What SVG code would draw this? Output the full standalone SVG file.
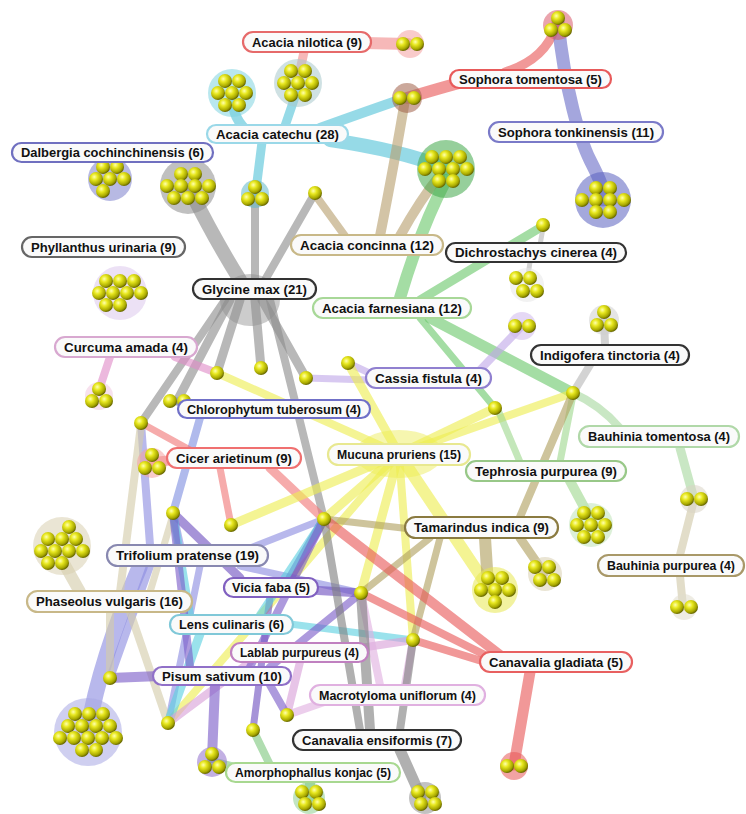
<svg xmlns="http://www.w3.org/2000/svg" xmlns:xlink="http://www.w3.org/1999/xlink" width="746" height="814" viewBox="0 0 746 814">
<style>
.e{fill:none;stroke-linecap:round;stroke-opacity:.62}
.nil{stroke:#f08c8c}.tom{stroke:#e85858}.cat{stroke:#55c4d8}.ton{stroke:#6c70c8}.gly{stroke:#8c8c8c}
.con{stroke:#b8a070}.far{stroke:#6cc86c}.dic{stroke:#b8b8b8}.cur{stroke:#e08cc8}.ind{stroke:#b8b8b8}
.cas{stroke:#c0a8e8}.chl{stroke:#8090e0}.bto{stroke:#a8d8a0}.cic{stroke:#f07878}.muc{stroke:#eeee50}
.tep{stroke:#a0d890}.tam{stroke:#b0a060}.bpu{stroke:#d0c8a8}.tri{stroke:#8c8ce0}.pha{stroke:#d4ccaa}
.vic{stroke:#7050c0}.len{stroke:#5cd0e0}.lab{stroke:#d8a0d8}.cgl{stroke:#e85858}.pis{stroke:#7a5cc8}
.mac{stroke:#e0b0e0}.cen{stroke:#808080}.amo{stroke:#80c880}
.lb{fill:#fafafa;stroke-width:2.2}
.bg{fill-opacity:.55}
.hub{fill-opacity:.5}
text{font-family:"Liberation Sans",Arial,sans-serif;font-weight:bold;font-size:12.5px;fill:#111;text-anchor:middle}
</style>
<defs>
<radialGradient id="g" cx="0.38" cy="0.35" r="0.65">
<stop offset="0" stop-color="#ffffb0"/><stop offset="0.35" stop-color="#e8e820"/><stop offset="0.8" stop-color="#a8a800"/><stop offset="1" stop-color="#6a6a00"/>
</radialGradient>
<circle id="b" r="7" fill="url(#g)"/>
</defs>
<rect width="746" height="814" fill="#ffffff"/>

<g id="connectors">
<ellipse class="hub" cx="399" cy="454" rx="44" ry="24" fill="#eeee60"/>
<ellipse class="hub" cx="250" cy="300" rx="30" ry="26" fill="#9a9a9a"/>
<path class="e nil" stroke-width="12" d="M365,43 L408,44"/>
<path class="e nil" stroke-width="9" d="M304,52 L299,75"/>
<path class="e tom" stroke-width="12" d="M470,80 Q440,88 407,98"/>
<path class="e tom" stroke-width="9" d="M505,72 Q545,60 556,26"/>
<path class="e cat" stroke-width="10" d="M250,133 Q232,120 232,95"/>
<path class="e cat" stroke-width="9" d="M285,126 L298,88"/>
<path class="e cat" stroke-width="10" d="M320,128 Q370,110 405,98"/>
<path class="e cat" stroke-width="14" d="M330,140 Q400,150 445,168"/>
<path class="e cat" stroke-width="9" d="M262,142 L256,190"/>
<path class="e ton" stroke-width="13" d="M558,22 C565,90 580,140 590,160 S603,185 603,200"/>
<path class="e gly" stroke-width="14" d="M240,280 Q215,240 190,190"/>
<path class="e gly" stroke-width="8" d="M255,280 L255,195"/>
<path class="e gly" stroke-width="8" d="M265,280 L315,193"/>
<path class="e gly" stroke-width="9" d="M240,300 L217,373"/>
<path class="e gly" stroke-width="9" d="M255,300 L261,368"/>
<path class="e gly" stroke-width="9" d="M262,300 L306,378"/>
<path class="e gly" stroke-width="9" d="M230,300 L177,401"/>
<path class="e gly" stroke-width="8" d="M225,300 L141,423"/>
<path class="e gly" stroke-width="8" d="M270,300 L324,519"/>
<path class="e con" stroke-width="10" d="M380,236 Q395,160 405,100"/>
<path class="e con" stroke-width="10" d="M400,236 Q420,200 440,175"/>
<path class="e con" stroke-width="8" d="M345,236 L316,196"/>
<path class="e far" stroke-width="12" d="M400,298 Q420,230 446,180"/>
<path class="e far" stroke-width="9" d="M420,300 L543,226"/>
<path class="e far" stroke-width="11" d="M430,318 L573,393"/>
<path class="e far" stroke-width="7" d="M420,318 L495,408"/>
<path class="e dic" stroke-width="5" d="M540,245 L543,228"/>
<path class="e dic" stroke-width="5" d="M530,262 L527,282"/>
<path class="e cur" stroke-width="8" d="M110,357 L99,390"/>
<path class="e cur" stroke-width="8" d="M175,357 L217,373"/>
<path class="e ind" stroke-width="8" d="M605,345 L604,320"/>
<path class="e ind" stroke-width="8" d="M590,365 L573,393"/>
<path class="e cas" stroke-width="8" d="M480,370 L522,326"/>
<path class="e cas" stroke-width="7" d="M380,378 L348,363"/>
<path class="e cas" stroke-width="7" d="M370,380 L306,378"/>
<path class="e chl" stroke-width="8" d="M190,405 L177,401"/>
<path class="e chl" stroke-width="8" d="M200,418 L173,513"/>
<path class="e bto" stroke-width="8" d="M620,428 Q600,405 573,393"/>
<path class="e bto" stroke-width="9" d="M680,448 L694,499"/>
<path class="e cic" stroke-width="10" d="M175,460 L152,462"/>
<path class="e cic" stroke-width="7" d="M190,450 L141,423"/>
<path class="e cic" stroke-width="9" d="M270,468 L324,519"/>
<path class="e cic" stroke-width="7" d="M220,468 L231,525"/>
<path class="e muc" stroke-width="9" d="M399,454 L348,363"/>
<path class="e muc" stroke-width="9" d="M399,454 L495,408"/>
<path class="e muc" stroke-width="8" d="M399,454 L573,393"/>
<path class="e muc" stroke-width="8" d="M399,454 L217,373"/>
<path class="e muc" stroke-width="9" d="M399,454 L231,525"/>
<path class="e muc" stroke-width="9" d="M399,454 L324,519"/>
<path class="e muc" stroke-width="9" d="M399,454 L361,593"/>
<path class="e muc" stroke-width="8" d="M399,454 L413,640"/>
<path class="e muc" stroke-width="12" d="M399,454 L488,587"/>
<path class="e muc" stroke-width="8" d="M399,454 L168,723"/>
<path class="e tep" stroke-width="10" d="M570,481 L591,520"/>
<path class="e tep" stroke-width="7" d="M520,462 L498,410"/>
<path class="e tep" stroke-width="7" d="M560,462 L573,395"/>
<path class="e tam" stroke-width="12" d="M485,538 L488,585"/>
<path class="e tam" stroke-width="9" d="M520,538 L544,573"/>
<path class="e tam" stroke-width="8" d="M520,517 L573,393"/>
<path class="e tam" stroke-width="7" d="M420,530 L324,519"/>
<path class="e tam" stroke-width="7" d="M430,538 L361,593"/>
<path class="e tam" stroke-width="7" d="M440,538 L413,640"/>
<path class="e bpu" stroke-width="8" d="M680,555 L694,500"/>
<path class="e bpu" stroke-width="8" d="M680,576 L683,607"/>
<path class="e tri" stroke-width="8" d="M180,545 L173,513"/>
<path class="e tri" stroke-width="8" d="M150,545 L141,423"/>
<path class="e tri" stroke-width="8" d="M150,566 L110,678"/>
<path class="e tri" stroke-width="16" stroke-opacity=".45" d="M140,566 Q100,660 88,730"/>
<path class="e tri" stroke-width="7" d="M230,556 L324,519"/>
<path class="e tri" stroke-width="7" d="M240,566 L361,593"/>
<path class="e tri" stroke-width="7" d="M200,566 L168,723"/>
<path class="e pha" stroke-width="12" d="M80,592 L62,560"/>
<path class="e pha" stroke-width="8" d="M120,592 L141,425"/>
<path class="e pha" stroke-width="8" d="M110,612 L110,678"/>
<path class="e pha" stroke-width="8" d="M130,612 L168,723"/>
<path class="e pha" stroke-width="7" d="M150,592 L173,515"/>
<path class="e vic" stroke-width="9" d="M290,578 L324,519"/>
<path class="e vic" stroke-width="9" d="M310,590 L361,593"/>
<path class="e vic" stroke-width="9" d="M240,578 L173,513"/>
<path class="e vic" stroke-width="7" d="M270,597 L253,730"/>
<path class="e len" stroke-width="9" d="M200,634 L168,723"/>
<path class="e len" stroke-width="8" d="M190,615 L173,513"/>
<path class="e len" stroke-width="8" d="M260,615 L324,519"/>
<path class="e len" stroke-width="7" d="M290,624 L413,640"/>
<path class="e lab" stroke-width="8" d="M300,662 L287,715"/>
<path class="e lab" stroke-width="8" d="M360,648 L413,640"/>
<path class="e lab" stroke-width="8" d="M250,662 L168,723"/>
<path class="e cgl" stroke-width="11" d="M530,672 L514,765"/>
<path class="e cgl" stroke-width="10" d="M500,655 L324,519"/>
<path class="e cgl" stroke-width="8" d="M495,660 L361,593"/>
<path class="e cgl" stroke-width="8" d="M485,662 L413,640"/>
<path class="e pis" stroke-width="10" d="M160,676 L110,678"/>
<path class="e pis" stroke-width="10" d="M215,685 L212,758"/>
<path class="e pis" stroke-width="8" d="M270,685 L287,715"/>
<path class="e pis" stroke-width="8" d="M190,667 L173,513"/>
<path class="e pis" stroke-width="8" d="M250,667 L324,519"/>
<path class="e pis" stroke-width="8" d="M270,667 L361,593"/>
<path class="e mac" stroke-width="8" d="M330,700 L287,715"/>
<path class="e mac" stroke-width="8" d="M405,685 L413,640"/>
<path class="e mac" stroke-width="8" d="M380,685 L361,593"/>
<path class="e cen" stroke-width="11" d="M400,750 L421,797"/>
<path class="e cen" stroke-width="10" d="M370,730 L361,593"/>
<path class="e cen" stroke-width="8" d="M360,730 L324,519"/>
<path class="e cen" stroke-width="8" d="M400,730 L413,640"/>
<path class="e amo" stroke-width="10" d="M310,782 L310,797"/>
<path class="e amo" stroke-width="10" d="M250,772 L212,762"/>
<path class="e amo" stroke-width="8" d="M270,765 L253,730"/>
</g>

<g id="c-nilotica-pair"><circle class="bg" cx="410" cy="44" r="14" fill="#f4a0a0"/><use href="#b" x="403" y="44"/><use href="#b" x="417" y="44"/></g>
<g id="c-hex-298"><circle class="bg" cx="298" cy="83" r="24" fill="#a8c8cc"/>
<use href="#b" x="291" y="71"/><use href="#b" x="305" y="71"/><use href="#b" x="284" y="83"/><use href="#b" x="298" y="83"/><use href="#b" x="312" y="83"/><use href="#b" x="291" y="95"/><use href="#b" x="305" y="95"/></g>
<g id="c-hex-232"><circle class="bg" cx="232" cy="93" r="24" fill="#80d4e0"/>
<use href="#b" x="225" y="81"/><use href="#b" x="239" y="81"/><use href="#b" x="218" y="93"/><use href="#b" x="232" y="93"/><use href="#b" x="246" y="93"/><use href="#b" x="225" y="105"/><use href="#b" x="239" y="105"/></g>
<g id="c-pair-407"><circle class="bg" cx="407" cy="98" r="15" fill="#a06048"/><use href="#b" x="400" y="98"/><use href="#b" x="414" y="98"/></g>
<g id="c-triple-558"><circle class="bg" cx="558" cy="25" r="15" fill="#d85a6a"/><use href="#b" x="558" y="18"/><use href="#b" x="551" y="30"/><use href="#b" x="565" y="30"/></g>
<g id="c-cluster-446"><circle class="bg" cx="446" cy="169" r="29" fill="#40a848"/>
<use href="#b" x="432" y="157"/><use href="#b" x="446" y="157"/><use href="#b" x="460" y="157"/><use href="#b" x="425" y="169"/><use href="#b" x="439" y="169"/><use href="#b" x="453" y="169"/><use href="#b" x="467" y="169"/><use href="#b" x="439" y="181"/><use href="#b" x="453" y="181"/></g>
<g id="c-cluster-603"><circle class="bg" cx="603" cy="200" r="28" fill="#5a60c0"/>
<use href="#b" x="596" y="188"/><use href="#b" x="610" y="188"/><use href="#b" x="582" y="200"/><use href="#b" x="596" y="200"/><use href="#b" x="610" y="200"/><use href="#b" x="624" y="200"/><use href="#b" x="596" y="212"/><use href="#b" x="610" y="212"/></g>
<g id="c-dalbergia"><circle class="bg" cx="110" cy="179" r="22" fill="#7c80cc"/>
<use href="#b" x="103" y="167"/><use href="#b" x="117" y="167"/><use href="#b" x="96" y="179"/><use href="#b" x="110" y="179"/><use href="#b" x="124" y="179"/><use href="#b" x="103" y="191"/></g>
<g id="c-glycine"><circle class="bg" cx="188" cy="186" r="28" fill="#8c8c8c"/>
<use href="#b" x="181" y="174"/><use href="#b" x="195" y="174"/><use href="#b" x="167" y="186"/><use href="#b" x="181" y="186"/><use href="#b" x="195" y="186"/><use href="#b" x="209" y="186"/><use href="#b" x="174" y="198"/><use href="#b" x="188" y="198"/><use href="#b" x="202" y="198"/></g>
<g id="c-triple-255"><circle class="bg" cx="255" cy="194" r="14" fill="#60b8c8"/><use href="#b" x="255" y="187"/><use href="#b" x="248" y="199"/><use href="#b" x="262" y="199"/></g>
<g id="c-phyllanthus"><circle class="bg" cx="120" cy="293" r="27" fill="#dcc8ec"/>
<use href="#b" x="106" y="281"/><use href="#b" x="120" y="281"/><use href="#b" x="134" y="281"/><use href="#b" x="99" y="293"/><use href="#b" x="113" y="293"/><use href="#b" x="127" y="293"/><use href="#b" x="141" y="293"/><use href="#b" x="106" y="305"/><use href="#b" x="120" y="305"/></g>
<g id="c-dich4"><circle class="bg" cx="527" cy="285" r="17" fill="#e8e8e8"/><use href="#b" x="516" y="278"/><use href="#b" x="530" y="278"/><use href="#b" x="523" y="291"/><use href="#b" x="537" y="291"/></g>
<g id="c-cassia-pair"><circle class="bg" cx="522" cy="326" r="14" fill="#d0b8ec"/><use href="#b" x="515" y="326"/><use href="#b" x="529" y="326"/></g>
<g id="c-indigofera"><circle class="bg" cx="604" cy="320" r="15" fill="#d0d0d0"/><use href="#b" x="604" y="312"/><use href="#b" x="597" y="325"/><use href="#b" x="611" y="325"/></g>
<g id="c-curcuma"><circle class="bg" cx="99" cy="396" r="14" fill="#f0c8e0"/><use href="#b" x="99" y="389"/><use href="#b" x="92" y="401"/><use href="#b" x="106" y="401"/></g>
<g id="c-cicer"><circle class="bg" cx="152" cy="463" r="15" fill="#f4a0a0"/><use href="#b" x="152" y="455"/><use href="#b" x="145" y="468"/><use href="#b" x="159" y="468"/></g>
<g id="c-phaseolus"><circle class="bg" cx="62" cy="546" r="29" fill="#d8d0b0"/>
<use href="#b" x="69" y="527"/><use href="#b" x="48" y="539"/><use href="#b" x="62" y="539"/><use href="#b" x="76" y="539"/><use href="#b" x="41" y="551"/><use href="#b" x="55" y="551"/><use href="#b" x="69" y="551"/><use href="#b" x="83" y="551"/><use href="#b" x="48" y="563"/><use href="#b" x="62" y="563"/></g>
<g id="c-tephrosia"><circle class="bg" cx="591" cy="525" r="22" fill="#c0e4b8"/>
<use href="#b" x="584" y="513"/><use href="#b" x="598" y="513"/><use href="#b" x="577" y="525"/><use href="#b" x="591" y="525"/><use href="#b" x="605" y="525"/><use href="#b" x="584" y="537"/><use href="#b" x="598" y="537"/></g>
<g id="c-tamarindus"><circle class="bg" cx="495" cy="590" r="23" fill="#e8e850"/>
<use href="#b" x="488" y="578"/><use href="#b" x="502" y="578"/><use href="#b" x="481" y="590"/><use href="#b" x="495" y="590"/><use href="#b" x="509" y="590"/><use href="#b" x="495" y="602"/></g>
<g id="c-544"><circle class="bg" cx="545" cy="574" r="17" fill="#d8d0b0"/><use href="#b" x="535" y="567"/><use href="#b" x="549" y="567"/><use href="#b" x="540" y="580"/><use href="#b" x="554" y="580"/></g>
<g id="c-pair-694"><circle class="bg" cx="694" cy="499" r="14" fill="#d8d4c4"/><use href="#b" x="687" y="499"/><use href="#b" x="701" y="499"/></g>
<g id="c-pair-684"><circle class="bg" cx="684" cy="607" r="13" fill="#e0dccc"/><use href="#b" x="677" y="607"/><use href="#b" x="691" y="607"/></g>
<g id="c-pisum"><circle class="bg" cx="88" cy="732" r="34" fill="#a8a8e4"/>
<use href="#b" x="75" y="714"/><use href="#b" x="89" y="714"/><use href="#b" x="103" y="714"/><use href="#b" x="68" y="726"/><use href="#b" x="82" y="726"/><use href="#b" x="96" y="726"/><use href="#b" x="110" y="726"/><use href="#b" x="60" y="738"/><use href="#b" x="74" y="738"/><use href="#b" x="88" y="738"/><use href="#b" x="102" y="738"/><use href="#b" x="116" y="738"/><use href="#b" x="82" y="750"/><use href="#b" x="96" y="750"/></g>
<g id="c-triple-212"><circle class="bg" cx="212" cy="762" r="15" fill="#9070cc"/><use href="#b" x="212" y="754"/><use href="#b" x="205" y="767"/><use href="#b" x="219" y="767"/></g>
<g id="c-amorph"><circle class="bg" cx="309" cy="798" r="16" fill="#90d090"/><use href="#b" x="302" y="792"/><use href="#b" x="316" y="792"/><use href="#b" x="305" y="804"/><use href="#b" x="319" y="804"/></g>
<g id="c-canens"><circle class="bg" cx="425" cy="798" r="16" fill="#909090"/><use href="#b" x="418" y="792"/><use href="#b" x="432" y="792"/><use href="#b" x="421" y="804"/><use href="#b" x="435" y="804"/></g>
<g id="c-pair-514"><circle class="bg" cx="514" cy="766" r="14" fill="#e85858"/><use href="#b" x="507" y="766"/><use href="#b" x="521" y="766"/></g>
<g id="c-pair-177"><use href="#b" x="170" y="401"/><use href="#b" x="184" y="401"/></g>
<g id="singles">
<use href="#b" x="315" y="193"/><use href="#b" x="543" y="225"/><use href="#b" x="217" y="373"/><use href="#b" x="261" y="368"/>
<use href="#b" x="306" y="378"/><use href="#b" x="348" y="363"/><use href="#b" x="573" y="393"/><use href="#b" x="495" y="408"/>
<use href="#b" x="141" y="423"/><use href="#b" x="173" y="513"/><use href="#b" x="231" y="525"/><use href="#b" x="324" y="519"/>
<use href="#b" x="361" y="593"/><use href="#b" x="413" y="640"/><use href="#b" x="110" y="678"/><use href="#b" x="168" y="723"/>
<use href="#b" x="287" y="715"/><use href="#b" x="253" y="730"/>
</g>

<g id="n-acacia-nilotica"><rect class="lb" x="243" y="32" width="128" height="20" rx="10" stroke="#e66a6a"/><text x="307" y="46.5" textLength="110" lengthAdjust="spacingAndGlyphs">Acacia nilotica (9)</text></g>
<g id="n-sophora-tomentosa"><rect class="lb" x="450" y="70" width="161" height="18" rx="9" stroke="#e85a5a"/><text x="530.5" y="83.5" textLength="143" lengthAdjust="spacingAndGlyphs">Sophora tomentosa (5)</text></g>
<g id="n-acacia-catechu"><rect class="lb" x="207" y="125" width="141" height="18" rx="9" stroke="#9ad8e8"/><text x="277.5" y="138.5" textLength="123" lengthAdjust="spacingAndGlyphs">Acacia catechu (28)</text></g>
<g id="n-sophora-tonkinensis"><rect class="lb" x="489" y="122" width="174" height="20" rx="10" stroke="#7a7ac8"/><text x="576" y="136.5" textLength="156" lengthAdjust="spacingAndGlyphs">Sophora tonkinensis (11)</text></g>
<g id="n-dalbergia"><rect class="lb" x="12" y="143" width="201" height="19" rx="9.5" stroke="#7070c0"/><text x="112.5" y="157" textLength="183" lengthAdjust="spacingAndGlyphs">Dalbergia cochinchinensis (6)</text></g>
<g id="n-phyllanthus"><rect class="lb" x="22" y="237" width="163" height="20" rx="10" stroke="#666666"/><text x="103.5" y="251.5" textLength="145" lengthAdjust="spacingAndGlyphs">Phyllanthus urinaria (9)</text></g>
<g id="n-acacia-concinna"><rect class="lb" x="291" y="235" width="152" height="20" rx="10" stroke="#c8b888"/><text x="367" y="249.5" textLength="134" lengthAdjust="spacingAndGlyphs">Acacia concinna (12)</text></g>
<g id="n-dichrostachys"><rect class="lb" x="446" y="243" width="180" height="19" rx="9.5" stroke="#333333"/><text x="536" y="257" textLength="162" lengthAdjust="spacingAndGlyphs">Dichrostachys cinerea (4)</text></g>
<g id="n-glycine-max"><rect class="lb" x="193" y="279" width="123" height="20" rx="10" stroke="#333333" stroke-width="3"/><text x="254.5" y="293.5" textLength="105" lengthAdjust="spacingAndGlyphs">Glycine max (21)</text></g>
<g id="n-acacia-farnesiana"><rect class="lb" x="313" y="298" width="158" height="20" rx="10" stroke="#a8d898"/><text x="392" y="312.5" textLength="140" lengthAdjust="spacingAndGlyphs">Acacia farnesiana (12)</text></g>
<g id="n-curcuma"><rect class="lb" x="55" y="337" width="142" height="20" rx="10" stroke="#d8a8d0"/><text x="126" y="351.5" textLength="124" lengthAdjust="spacingAndGlyphs">Curcuma amada (4)</text></g>
<g id="n-indigofera"><rect class="lb" x="531" y="345" width="158" height="20" rx="10" stroke="#333333"/><text x="610" y="359.5" textLength="140" lengthAdjust="spacingAndGlyphs">Indigofera tinctoria (4)</text></g>
<g id="n-cassia"><rect class="lb" x="366" y="368" width="125" height="20" rx="10" stroke="#9080d0"/><text x="428.5" y="382.5" textLength="107" lengthAdjust="spacingAndGlyphs">Cassia fistula (4)</text></g>
<g id="n-chlorophytum"><rect class="lb" x="178" y="400" width="192" height="18" rx="9" stroke="#7070c8"/><text x="274" y="413.5" textLength="174" lengthAdjust="spacingAndGlyphs">Chlorophytum tuberosum (4)</text></g>
<g id="n-bauhinia-tomentosa"><rect class="lb" x="579" y="426" width="160" height="21" rx="10.5" stroke="#b0d8a8"/><text x="659" y="441" textLength="142" lengthAdjust="spacingAndGlyphs">Bauhinia tomentosa (4)</text></g>
<g id="n-cicer"><rect class="lb" x="167" y="448" width="134" height="20" rx="10" stroke="#f07070"/><text x="234" y="462.5" textLength="116" lengthAdjust="spacingAndGlyphs">Cicer arietinum (9)</text></g>
<g id="n-mucuna"><rect class="lb" x="328" y="444" width="142" height="21" rx="10.5" stroke="#e8e890"/><text x="399" y="459" textLength="124" lengthAdjust="spacingAndGlyphs">Mucuna pruriens (15)</text></g>
<g id="n-tephrosia"><rect class="lb" x="466" y="461" width="160" height="20" rx="10" stroke="#98c888"/><text x="546" y="475.5" textLength="142" lengthAdjust="spacingAndGlyphs">Tephrosia purpurea (9)</text></g>
<g id="n-tamarindus"><rect class="lb" x="405" y="517" width="153" height="21" rx="10.5" stroke="#8a7a40"/><text x="481.5" y="532" textLength="135" lengthAdjust="spacingAndGlyphs">Tamarindus indica (9)</text></g>
<g id="n-trifolium"><rect class="lb" x="107" y="545" width="161" height="21" rx="10.5" stroke="#8888b0"/><text x="187.5" y="560" textLength="143" lengthAdjust="spacingAndGlyphs">Trifolium pratense (19)</text></g>
<g id="n-bauhinia-purpurea"><rect class="lb" x="598" y="555" width="146" height="21" rx="10.5" stroke="#a89868"/><text x="671" y="570" textLength="128" lengthAdjust="spacingAndGlyphs">Bauhinia purpurea (4)</text></g>
<g id="n-phaseolus"><rect class="lb" x="27" y="591" width="165" height="21" rx="10.5" stroke="#c8b888"/><text x="109.5" y="606" textLength="147" lengthAdjust="spacingAndGlyphs">Phaseolus vulgaris (16)</text></g>
<g id="n-vicia"><rect class="lb" x="224" y="578" width="94" height="19" rx="9.5" stroke="#8060c0"/><text x="271" y="592" textLength="78" lengthAdjust="spacingAndGlyphs">Vicia faba (5)</text></g>
<g id="n-lens"><rect class="lb" x="170" y="615" width="123" height="19" rx="9.5" stroke="#80c8d8"/><text x="231.5" y="629" textLength="105" lengthAdjust="spacingAndGlyphs">Lens culinaris (6)</text></g>
<g id="n-lablab"><rect class="lb" x="231" y="643" width="137" height="19" rx="9.5" stroke="#c080c0"/><text x="299.5" y="657" textLength="119" lengthAdjust="spacingAndGlyphs">Lablab purpureus (4)</text></g>
<g id="n-canavalia-gladiata"><rect class="lb" x="480" y="652" width="152" height="20" rx="10" stroke="#e86060"/><text x="556" y="666.5" textLength="134" lengthAdjust="spacingAndGlyphs">Canavalia gladiata (5)</text></g>
<g id="n-pisum"><rect class="lb" x="153" y="667" width="138" height="18" rx="9" stroke="#9070c8"/><text x="222" y="680.5" textLength="120" lengthAdjust="spacingAndGlyphs">Pisum sativum (10)</text></g>
<g id="n-macrotyloma"><rect class="lb" x="310" y="685" width="175" height="20" rx="10" stroke="#e0b0e0"/><text x="397.5" y="699.5" textLength="157" lengthAdjust="spacingAndGlyphs">Macrotyloma uniflorum (4)</text></g>
<g id="n-canavalia-ensiformis"><rect class="lb" x="293" y="730" width="168" height="20" rx="10" stroke="#333333" stroke-width="3"/><text x="377" y="744.5" textLength="150" lengthAdjust="spacingAndGlyphs">Canavalia ensiformis (7)</text></g>
<g id="n-amorphophallus"><rect class="lb" x="226" y="763" width="174" height="19" rx="9.5" stroke="#a8d890"/><text x="313" y="777" textLength="156" lengthAdjust="spacingAndGlyphs">Amorphophallus konjac (5)</text></g>
</svg>
